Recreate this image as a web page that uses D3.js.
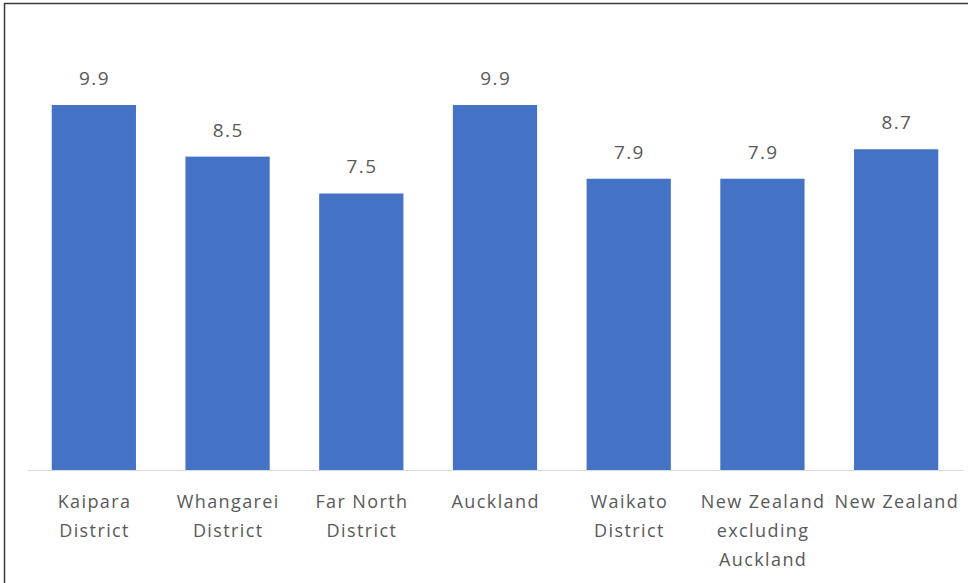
<!DOCTYPE html>
<html>
<head>
<meta charset="utf-8">
<script src="https://cdn.jsdelivr.net/npm/d3@7"></script>
<style>
  html, body { margin: 0; padding: 0; background: #fff; }
  svg { display: block; }
  text { font-family: "Segoe UI", "Open Sans", "Noto Sans", sans-serif; fill: #595959; letter-spacing: 1.4px; }
</style>
</head>
<body>
<svg id="chart" width="968" height="583"></svg>
<script>
// Regions compared in the chart
const categories = [
  "Kaipara District",
  "Whangarei District",
  "Far North District",
  "Auckland",
  "Waikato District",
  "New Zealand excluding Auckland",
  "New Zealand"
];
// Value shown for each region
const values = [9.9, 8.5, 7.5, 9.9, 7.9, 7.9, 8.7];

const W = 968, H = 583;
const plot = { left: 27, right: 963, top: 30, bottom: 470 };

const svg = d3.select("#chart");

// Frame lines along the top and left edges
svg.append("line").attr("x1", 4).attr("x2", W).attr("y1", 3.5).attr("y2", 3.5)
  .attr("stroke", "#3a3a3a").attr("stroke-width", 1.5);
svg.append("line").attr("x1", 4.5).attr("x2", 4.5).attr("y1", 3).attr("y2", H)
  .attr("stroke", "#3a3a3a").attr("stroke-width", 1.5);

const x = d3.scaleBand()
  .domain(categories)
  .range([plot.left, plot.right])
  .paddingInner(0.37)
  .paddingOuter(0.185);

const y = d3.scaleLinear()
  .domain([0, 9.9])
  .range([plot.bottom, plot.bottom - 365]);

const data = categories.map((c, i) => ({ cat: c, val: values[i] }));

// Bars
svg.append("g").selectAll("rect")
  .data(data)
  .join("rect")
  .attr("x", d => x(d.cat))
  .attr("y", d => y(d.val))
  .attr("width", x.bandwidth())
  .attr("height", d => y(0) - y(d.val))
  .attr("fill", "#4472C4");

// Value labels above bars
svg.append("g").selectAll("text")
  .data(data)
  .join("text")
  .attr("x", d => x(d.cat) + x.bandwidth() / 2 + 0.7)
  .attr("y", d => y(d.val) - 20)
  .attr("text-anchor", "middle")
  .attr("font-size", 19)
  .text(d => d3.format(".1f")(d.val));

// Category axis with baseline
const axis = svg.append("g")
  .attr("transform", `translate(0,${plot.bottom})`)
  .call(d3.axisBottom(x).tickSize(0).tickPadding(0));
axis.select(".domain").attr("stroke", "#d9d9d9").attr("stroke-width", 1);
axis.selectAll(".tick text")
  .attr("font-size", 18)
  .attr("fill", "#595959")
  .style("font-family", "\"Segoe UI\", \"Open Sans\", \"Noto Sans\", sans-serif");

// Wrap category names to the width of a band
const maxW = x.step() - 2;
axis.selectAll(".tick text").each(function () {
  const t = d3.select(this);
  const words = t.text().split(/\s+/);
  t.text(null).attr("dy", null).attr("y", 38);
  const lines = [];
  let line = [];
  const probe = t.append("tspan");
  words.forEach(w => {
    const trial = line.concat(w).join(" ");
    probe.text(trial);
    if (probe.node().getComputedTextLength() > maxW && line.length) {
      lines.push(line.join(" "));
      line = [w];
    } else {
      line.push(w);
    }
  });
  lines.push(line.join(" "));
  probe.remove();
  lines.forEach((l, i) => {
    t.append("tspan").attr("x", 0.7).attr("y", 38 + i * 29).text(l);
  });
});
</script>
</body>
</html>
